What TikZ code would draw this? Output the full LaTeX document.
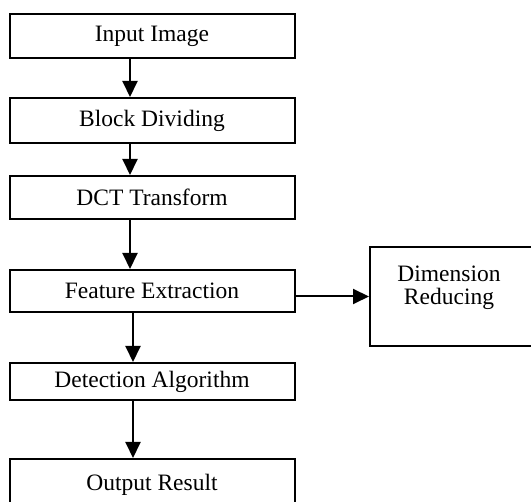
\documentclass[tikz,border=0pt]{standalone}
\usepackage{fontspec}
\setmainfont{Liberation Serif}
\usepackage{tikz}
\usetikzlibrary{positioning,arrows.meta}

\begin{document}
\begin{tikzpicture}[x=1pt, y=-1pt, font=\fontsize{23.5}{23}\selectfont,
  stage/.style={draw, line width=2pt, minimum width=285pt, inner sep=0pt},
  flow/.style={line width=2pt, -{Triangle[length=16pt, width=15pt]}}]
  % Frame of the page
  \clip (0,0) rectangle (531,502);
  % Main column
  \foreach \n/\y/\h/\t in {img/36/44/Input Image, blk/120.5/45/Block Dividing,
      dct/197.5/43/DCT Transform, fex/291/42/Feature Extraction,
      det/381.5/37/Detection Algorithm, res/484.5/51/Output Result} {
    \node[stage, minimum height=\h pt] (\n) at (152,\y) {\t};
  }
  % Side box
  \node[draw, line width=2pt, minimum width=164pt, minimum height=99pt] (dim) at (452,296.5) {};
  \node[anchor=north, align=center, inner sep=0pt] (dimtxt) at ([xshift=-3pt, yshift=-20pt]dim.north) {Dimension\\Reducing};
  % Arrows
  \foreach \a/\b/\s in {img/blk/-22, blk/dct/-22, dct/fex/-22, fex/det/-19, det/res/-19} {
    \draw[flow] ([xshift=\s pt]\a.south) -- ([xshift=\s pt]\b.north);
  }
  \draw[flow] (dim.west -| fex.east) -- (dim.west);
\end{tikzpicture}
\end{document}
